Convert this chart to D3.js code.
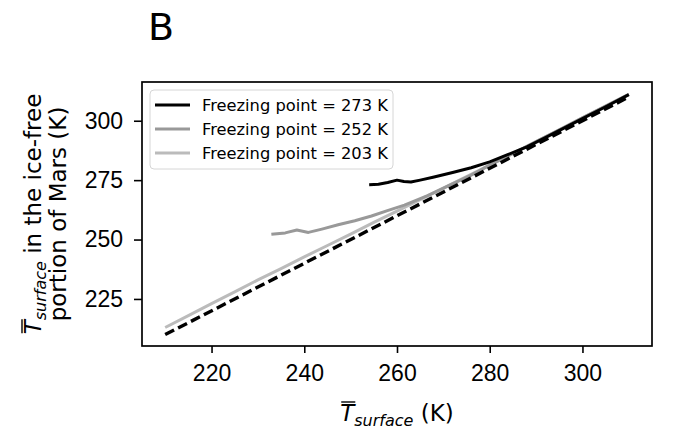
<!DOCTYPE html>
<meta charset="utf-8">
<style>
body { margin: 0; background: #fff; }
svg { display: block; font-family: "DejaVu Sans", sans-serif; }
.tick text { font-size: 23px; fill: #000; }
.tick line { stroke: #000; stroke-width: 1.6px; }
.domain { display: none; }
.fline { fill: none; stroke-width: 3px; stroke-linejoin: round; stroke-linecap: butt; }
</style>
<body>
<svg width="682" height="432"></svg>
<script src="https://d3js.org/d3.v7.min.js"></script>
<script>

// data
var identityX = [210, 310],
    identityY = [210, 310];

var f273X = [254, 256, 258, 260, 261.5, 263, 265, 268, 272, 276, 280, 284, 288, 292, 296, 300, 305, 310],
    f273Y = [273.1, 273.3, 274.0, 275.0, 274.4, 274.2, 275.0, 276.3, 278.2, 280.2, 282.7, 285.8, 289.0, 292.9, 296.9, 300.9, 305.9, 311.0];

var f252X = [232.9, 235.9, 238.4, 240.9, 243.8, 247.3, 250.9, 254.5, 258.1, 261.6, 266.6, 272.3, 275.9, 280, 283, 288, 295, 300, 305, 310],
    f252Y = [252.2, 252.8, 254.0, 253.0, 254.4, 256.2, 257.9, 259.9, 262.3, 264.5, 268.5, 273.7, 277.0, 281.3, 284.3, 289.2, 296.2, 301.2, 306.2, 311.1];

var f203X = [210, 215, 220, 225, 230, 235, 240, 245, 250, 255, 260, 265, 270, 275, 280, 285, 290, 295, 300, 305, 310],
    f203Y = [213.0, 218.0, 223.0, 228.0, 233.0, 237.8, 242.7, 247.5, 252.3, 257.2, 262.0, 266.8, 271.6, 276.5, 281.3, 286.2, 291.2, 296.2, 301.2, 306.2, 311.1];

var legendLabels = ["Freezing point = 273 K", "Freezing point = 252 K", "Freezing point = 203 K"],
    lineColors = ["#000000", "#999999", "#bbbbbb"];

var xTicks = [220, 240, 260, 280, 300],
    yTicks = [225, 250, 275, 300];

var svg = d3.select("svg"),
    margin = {top: 82, right: 30, bottom: 86, left: 142},
    width = +svg.attr("width") - margin.left - margin.right,
    height = +svg.attr("height") - margin.top - margin.bottom,
    g = svg.append("g").attr("transform", "translate(" + margin.left + "," + margin.top + ")");

var x = d3.scaleLinear().domain([205, 315]).range([0, width]);
var y = d3.scaleLinear().domain([205.2, 316.3]).range([height, 0]);

// axes
var xAxis = g.append("g")
    .attr("transform", "translate(0," + height + ")")
    .call(d3.axisBottom(x).tickValues(xTicks).tickSize(7).tickPadding(11).tickFormat(d3.format("d")));
xAxis.selectAll("text").attr("dy", "0.75em");

g.append("g")
    .call(d3.axisLeft(y).tickValues(yTicks).tickSize(8).tickPadding(11).tickFormat(d3.format("d")));

var line = d3.line().x(function(d) { return x(d[0]); }).y(function(d) { return y(d[1]); });

var series = [
  {xs: f203X, ys: f203Y, color: lineColors[2]},
  {xs: f252X, ys: f252Y, color: lineColors[1]},
  {xs: f273X, ys: f273Y, color: lineColors[0]}
];

series.forEach(function(s) {
  g.append("path")
      .datum(d3.zip(s.xs, s.ys))
      .attr("class", "fline")
      .attr("stroke", s.color)
      .attr("d", line);
});

g.append("path")
    .datum(d3.zip(identityX, identityY))
    .attr("fill", "none")
    .attr("stroke", "#000")
    .attr("stroke-width", 3.4)
    .attr("stroke-dasharray", "10,4.5")
    .attr("d", line);

// frame
g.append("rect")
    .attr("width", width)
    .attr("height", height)
    .attr("fill", "none")
    .attr("stroke", "#000")
    .attr("stroke-width", 1.7);

// legend
var leg = g.append("g").attr("transform", "translate(8,8)");
leg.append("rect")
    .attr("width", 243)
    .attr("height", 79)
    .attr("rx", 4)
    .attr("fill", "#fff")
    .attr("fill-opacity", 0.8)
    .attr("stroke", "#d6d6d6");

legendLabels.forEach(function(lab, i) {
  var yy = 15 + i * 24;
  leg.append("line")
      .attr("x1", 5).attr("x2", 40)
      .attr("y1", yy).attr("y2", yy)
      .attr("stroke", lineColors[i])
      .attr("stroke-width", 3);
  leg.append("text")
      .attr("x", 52).attr("y", yy)
      .attr("dy", "0.36em")
      .style("font-size", "16.3px")
      .text(lab);
});

// label with T-bar and italic subscript
function tbarLabel(parent, xx, yy, rest) {
  var t = parent.append("text")
      .attr("x", xx).attr("y", yy)
      .attr("text-anchor", "middle")
      .style("font-size", "23px");
  t.append("tspan").style("font-style", "italic").text("T");
  t.append("tspan").style("font-style", "italic").style("font-size", "16px").attr("dy", 4.5).text("surface");
  t.append("tspan").attr("dy", -4.5).text(rest);
  var box = t.node().getExtentOfChar(0);
  parent.append("line")
      .attr("x1", box.x + 1).attr("x2", box.x + box.width + 1)
      .attr("y1", box.y + 2).attr("y2", box.y + 2)
      .attr("stroke", "#000")
      .attr("stroke-width", 1.4);
  return t;
}

tbarLabel(g, width / 2, height + 75, " (K)");

var yl = svg.append("g").attr("transform", "rotate(-90)");
tbarLabel(yl, -(margin.top + height / 2), 41, " in the ice-free");
yl.append("text")
    .attr("x", -(margin.top + height / 2)).attr("y", 66)
    .attr("text-anchor", "middle")
    .style("font-size", "23px")
    .text("portion of Mars (K)");

// panel letter
svg.append("text")
    .attr("x", 148).attr("y", 40)
    .style("font-size", "38px")
    .text("B");

</script>
</body>
